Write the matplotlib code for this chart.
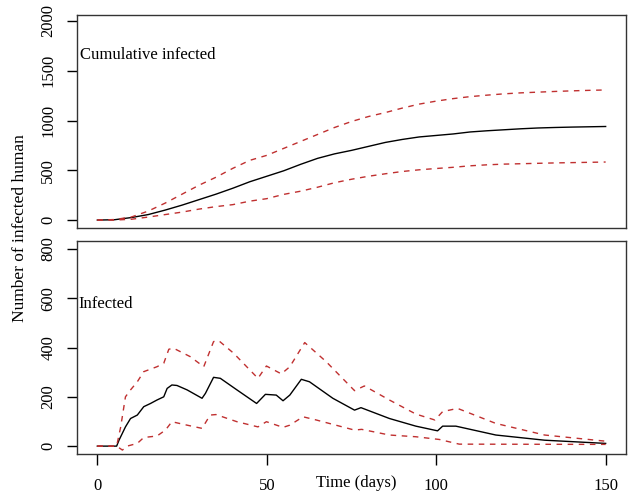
import matplotlib
matplotlib.use('Agg')
import matplotlib.pyplot as plt

# cumulative infected (every 5 days)
cum_day = [0, 5, 10, 15, 20, 25, 30, 35, 40, 45, 50, 55, 60, 65, 70, 75,
           80, 85, 90, 95, 100, 105, 110, 115, 120, 125, 130, 135, 140, 145, 150]
cum_mean = [0, 3, 25, 55, 100, 150, 205, 260, 320, 385, 440, 495, 560, 620, 665, 700,
            740, 780, 810, 835, 850, 865, 885, 897, 907, 917, 925, 930, 934, 937, 940]
cum_up = [0, 5, 30, 90, 170, 260, 350, 430, 520, 600, 650, 720, 790, 860, 930, 990,
          1040, 1080, 1125, 1165, 1195, 1220, 1240, 1255, 1268, 1278, 1285, 1292, 1298, 1303, 1307]
cum_lo = [0, 0, 8, 30, 55, 80, 110, 135, 155, 190, 215, 258, 290, 330, 375, 410,
          440, 465, 488, 505, 518, 530, 545, 555, 562, 566, 570, 574, 577, 580, 583]

# infected (mean)
inf_day = [0, 5.7, 6.4, 8.3, 9.8, 11.8, 13.7, 15.7, 17.6, 19.6, 20.6, 22, 23.5, 26.5, 30.9,
           31.9, 34.3, 36.3, 41.2, 47, 49.6, 52.8, 54.8, 56.8, 60.2, 62.6, 69.5, 75.9, 77.8,
           86.2, 94, 100.4, 101.9, 105.8, 117.6, 132, 150]
inf_mean = [0, 0, 24, 78, 112, 126, 160, 173, 187, 200, 234, 248, 246, 228, 194,
            214, 279, 275, 228, 173, 210, 207, 184, 207, 271, 261, 194, 146, 156,
            112, 81, 62, 81, 81, 45, 24, 11]

# infected upper bound
up_day = [0, 5.7, 6.9, 8.3, 9.8, 11.8, 13.7, 17.6, 19.6, 21.1, 22.5, 27.4, 31.4, 34.3, 35.8,
          40.2, 47.4, 49.9, 54.3, 56.8, 61.2, 67.5, 75.9, 78.8, 86.2, 94, 99.6, 101.9, 106.3,
          117.6, 132, 150]
up_val = [0, 0, 78, 200, 228, 261, 302, 322, 336, 393, 397, 363, 322, 424, 428,
          377, 275, 325, 293, 322, 420, 343, 225, 244, 187, 130, 106, 140, 153,
          92, 45, 20]

# infected lower bound
lo_day = [0, 5.7, 7.4, 8.8, 11.8, 13.7, 17.6, 20.1, 22, 26.5, 30.9, 33.3, 35, 41.2, 47.4,
          49.9, 54.8, 56.8, 60.7, 64.6, 75.9, 78, 86.2, 94, 100.9, 106.8, 150]
lo_val = [0, 0, -16, 0, 11, 35, 41, 65, 99, 85, 72, 126, 128, 99, 78,
          99, 76, 85, 119, 106, 65, 68, 45, 38, 27, 8, 7]

plt.rcParams['font.family'] = ['Liberation Serif', 'DejaVu Serif']
plt.rcParams['font.size'] = 12

red = '#c03030'
fig = plt.figure(figsize=(6.29, 4.97), dpi=100)
ax1 = fig.add_axes([0.1224, 0.5412, 0.8728, 0.4286])
ax2 = fig.add_axes([0.1224, 0.0865, 0.8728, 0.4286])

ax1.plot(cum_day, cum_mean, color='black', lw=1)
ax1.plot(cum_day, cum_up, color=red, lw=1, dashes=(4, 4))
ax1.plot(cum_day, cum_lo, color=red, lw=1, dashes=(4, 4))
ax1.set_xlim(-6, 156)
ax1.set_ylim(-80, 2060)
ax1.set_yticks([0, 500, 1000, 1500, 2000])
ax1.set_xticks([])
ax1.text(0.005, 0.81, 'Cumulative infected', transform=ax1.transAxes, va='center', ha='left')

ax2.plot(inf_day, inf_mean, color='black', lw=1)
ax2.plot(up_day, up_val, color=red, lw=1, dashes=(4, 4))
ax2.plot(lo_day, lo_val, color=red, lw=1, dashes=(4, 4))
ax2.set_xlim(-6, 156)
ax2.set_ylim(-32, 832)
ax2.set_yticks([0, 200, 400, 600, 800])
ax2.set_xticks([0, 50, 100, 150])
ax2.text(0.002, 0.705, 'Infected', transform=ax2.transAxes, va='center', ha='left')

for ax in (ax1, ax2):
    ax.tick_params(axis='y', length=7, width=1, pad=8)
    for lab in ax.get_yticklabels():
        lab.set_rotation(90)
        lab.set_va('center')
    for s in ax.spines.values():
        s.set_color('#333333')
        s.set_linewidth(1)
ax2.tick_params(axis='x', length=8, width=1, pad=9)

fig.text(356 / 629, 1 - 483 / 497, 'Time (days)', ha='center', va='center')
fig.text(20 / 629, 1 - 228 / 497, 'Number of infected human', rotation=90,
         ha='center', va='center', fontsize=12.5)

fig.savefig('out.png', dpi=100)
